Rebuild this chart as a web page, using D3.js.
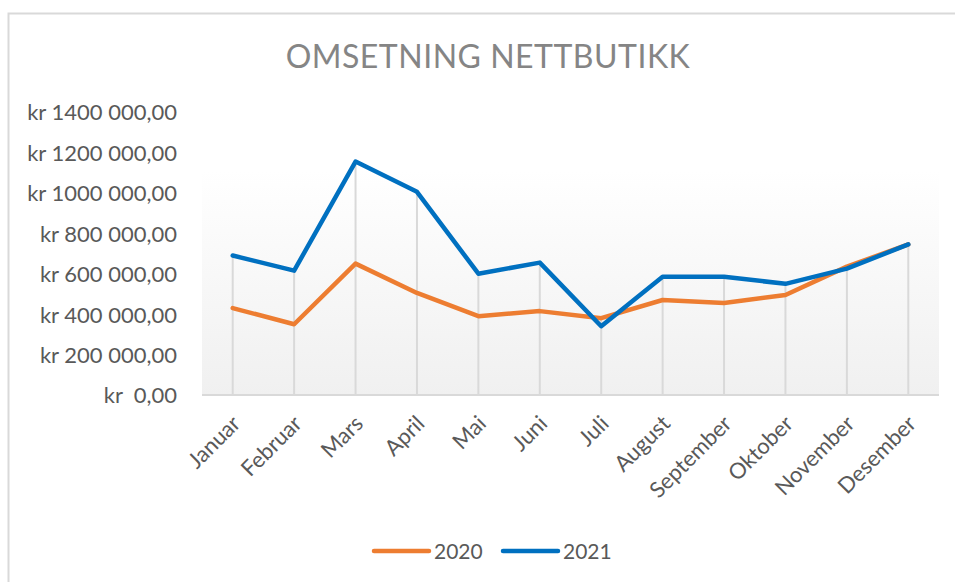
<!DOCTYPE html>
<html>
<head>
<meta charset="utf-8">
<script src="https://cdn.jsdelivr.net/npm/d3@7"></script>
<style>
  body { margin: 0; background: #fff; }
  text { font-family: Lato, "Open Sans", sans-serif; }
</style>
</head>
<body>
<div id="chartDiv"></div>
<script>
var months = ["Januar", "Februar", "Mars", "April", "Mai", "Juni", "Juli",
    "August", "September", "Oktober", "November", "Desember"];
var years = ["2020", "2021"];
var sales2020 = [430000, 350000, 650000, 505000, 390000, 415000, 380000,
    470000, 455000, 495000, 635000, 745000];
var sales2021 = [690000, 615000, 1155000, 1005000, 600000, 655000, 340000,
    585000, 585000, 550000, 625000, 745000];
var yTicks = [0, 200000, 400000, 600000, 800000, 1000000, 1200000, 1400000];
var seriesColors = ["#ED7D31", "#0070C0"];

var width = 955,
    height = 582,
    plot = { left: 202, right: 939, top: 112, bottom: 395 };

var svg = d3.select("#chartDiv").append("svg")
    .attr("width", width)
    .attr("height", height);

// chart border (runs off the right / bottom edge like the screenshot)
svg.append("rect")
    .attr("x", 8.5).attr("y", 13.5)
    .attr("width", 980).attr("height", 620)
    .attr("fill", "#fff")
    .attr("stroke", "#d9d9d9")
    .attr("stroke-width", 2);

var x = d3.scaleBand()
    .domain(months)
    .range([plot.left, plot.right]);

var y = d3.scaleLinear()
    .domain([0, 1400000])
    .range([plot.bottom, plot.top]);

// plot area gradient
var grad = svg.append("defs").append("linearGradient")
    .attr("id", "plotFill")
    .attr("x1", 0).attr("y1", 0).attr("x2", 0).attr("y2", 1);
grad.append("stop").attr("offset", "0%").attr("stop-color", "#ffffff");
grad.append("stop").attr("offset", "100%").attr("stop-color", "#f0f0f0");

svg.append("rect")
    .attr("x", plot.left).attr("y", 170)
    .attr("width", plot.right - plot.left)
    .attr("height", plot.bottom - 170)
    .attr("fill", "url(#plotFill)");

// title
svg.append("text")
    .attr("x", 488).attr("y", 68)
    .attr("text-anchor", "middle")
    .attr("fill", "#858585")
    .style("font-size", "32px")
    .style("letter-spacing", "0.5px")
    .text("OMSETNING NETTBUTIKK");

// y axis labels
function krFormat(v) {
    var s = d3.format(",.2f")(v).replace(/,/g, " ").replace(".", ",");
    // Excel groups "1400 000" without the thousands space
    s = s.replace(/^(\d) (\d{3} )/, "$1$2");
    return v === 0 ? "kr  " + s : "kr " + s;
}

var yAxis = svg.append("g")
    .attr("transform", "translate(177,0)")
    .call(d3.axisLeft(y).tickValues(yTicks).tickSize(0).tickPadding(0).tickFormat(krFormat));
yAxis.select(".domain").remove();
yAxis.selectAll("text")
    .attr("fill", "#595959")
    .style("font-size", "22px")
    .style("white-space", "pre")
    .attr("dy", "0.36em");

// drop lines
var dropData = months.map(function(m, i) {
    return { month: m, top: Math.max(sales2020[i], sales2021[i]) };
});
svg.append("g")
    .selectAll("line")
    .data(dropData)
    .enter().append("line")
    .attr("x1", function(d) { return x(d.month) + x.bandwidth() / 2; })
    .attr("x2", function(d) { return x(d.month) + x.bandwidth() / 2; })
    .attr("y1", function(d) { return y(d.top); })
    .attr("y2", plot.bottom)
    .attr("stroke", "#d9d9d9")
    .attr("stroke-width", 2);

// baseline
svg.append("line")
    .attr("x1", plot.left).attr("x2", plot.right)
    .attr("y1", plot.bottom).attr("y2", plot.bottom)
    .attr("stroke", "#d9d9d9")
    .attr("stroke-width", 2);

// x axis labels
var xAxis = svg.append("g")
    .attr("transform", "translate(0," + plot.bottom + ")")
    .call(d3.axisBottom(x).tickSize(0).tickPadding(0));
xAxis.select(".domain").remove();
xAxis.selectAll("text")
    .attr("fill", "#595959")
    .style("font-size", "22px")
    .attr("text-anchor", "end")
    .attr("dy", 0)
    .attr("transform", "translate(9,30) rotate(-45)");

// lines
var line = d3.line()
    .x(function(d, i) { return x(months[i]) + x.bandwidth() / 2; })
    .y(function(d) { return y(d); });

var series = [sales2020, sales2021];
svg.append("g")
    .selectAll("path")
    .data(series)
    .enter().append("path")
    .attr("d", line)
    .attr("fill", "none")
    .attr("stroke", function(d, i) { return seriesColors[i]; })
    .attr("stroke-width", 4.5)
    .attr("stroke-linejoin", "round")
    .attr("stroke-linecap", "round");

// legend
var legendX = [374, 503];
var legend = svg.append("g")
    .selectAll("g")
    .data(years)
    .enter().append("g")
    .attr("transform", function(d, i) { return "translate(" + legendX[i] + ",551)"; });
legend.append("line")
    .attr("x1", 0).attr("x2", 55)
    .attr("stroke", function(d, i) { return seriesColors[i]; })
    .attr("stroke-width", 4.5)
    .attr("stroke-linecap", "round");
legend.append("text")
    .attr("x", 60)
    .attr("dy", "0.36em")
    .attr("fill", "#595959")
    .style("font-size", "21px")
    .text(function(d) { return d; });
</script>
</body>
</html>
